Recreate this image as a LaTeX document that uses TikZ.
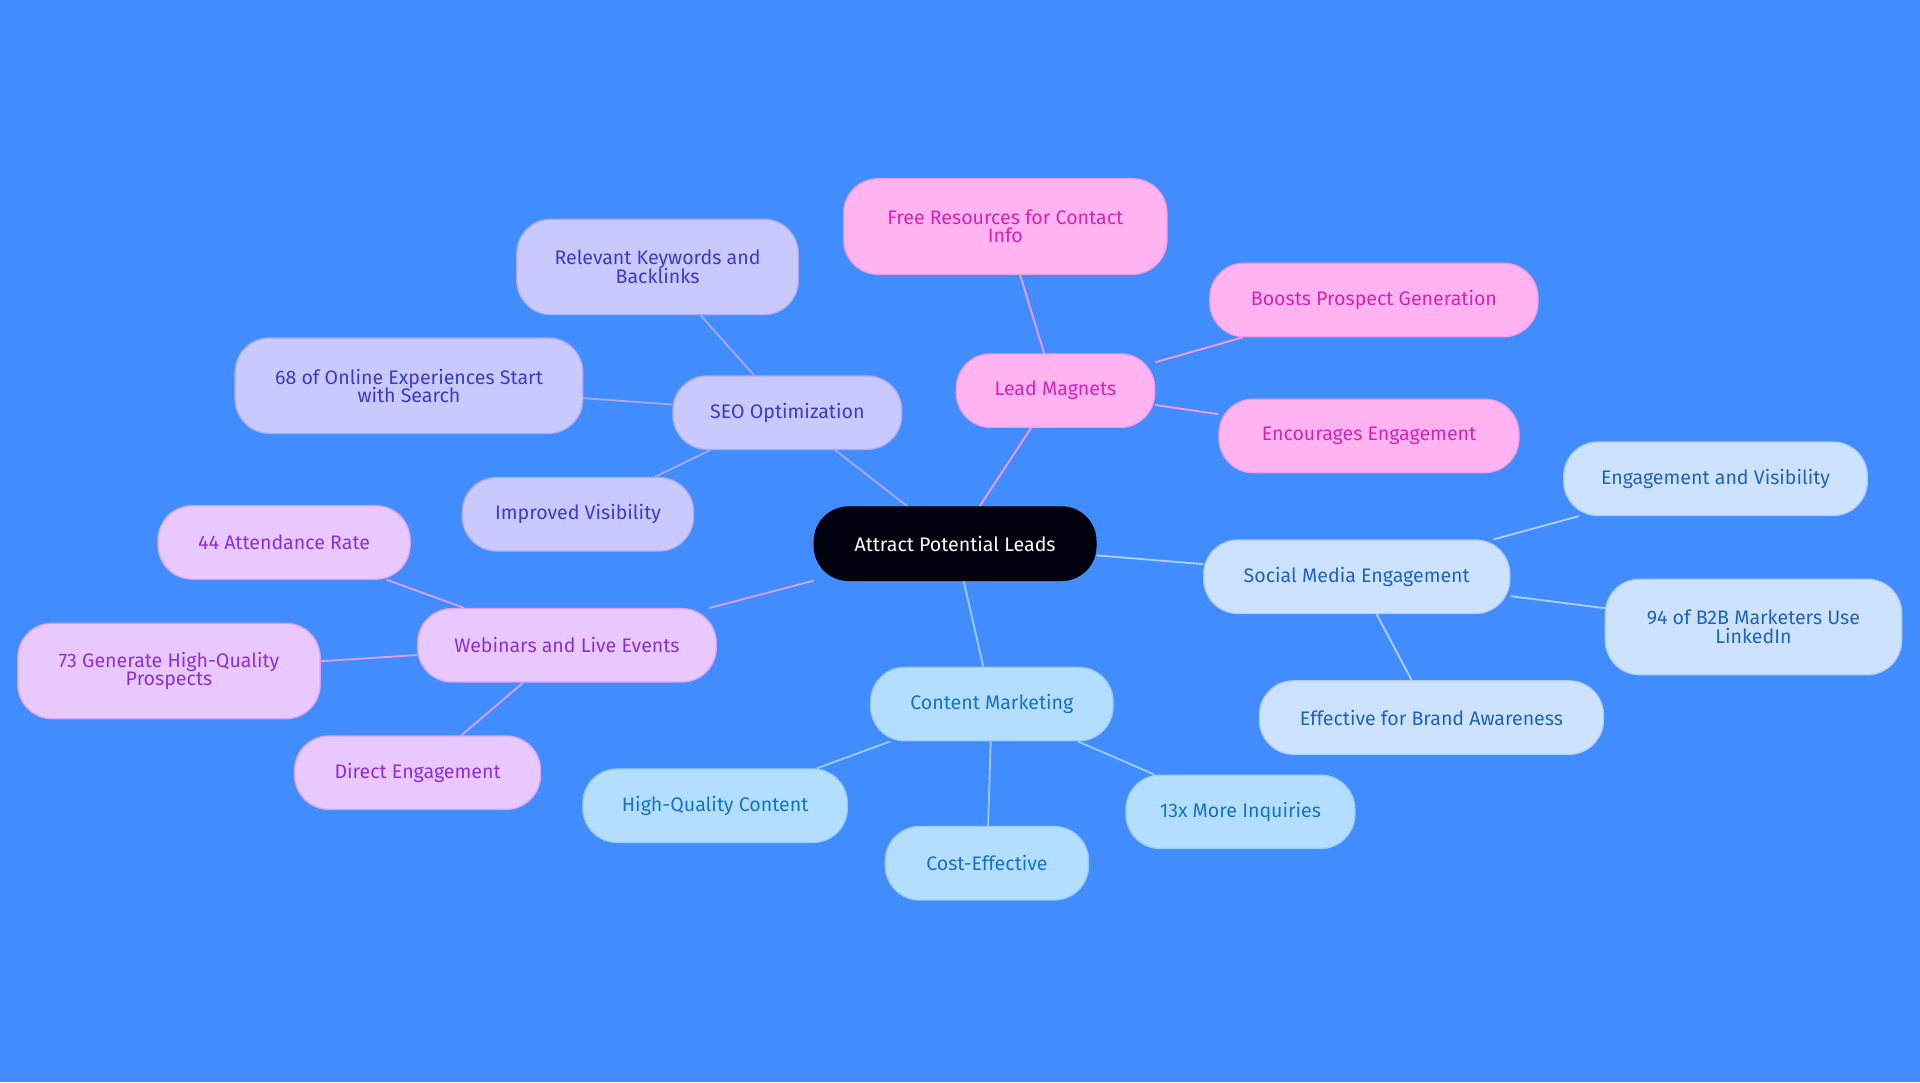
\documentclass[tikz,border=0pt]{standalone}
\usepackage{fontspec}
\setmainfont{Fira Sans}
\pgfdeclarelayer{bg}\pgfdeclarelayer{edges}
\pgfsetlayers{bg,edges,main}
\definecolor{bgc}{HTML}{418DFF}
\definecolor{pinkF}{HTML}{FFB3F0}\definecolor{pinkT}{HTML}{D424B5}\definecolor{pinkE}{HTML}{F49BE6}
\definecolor{lavF}{HTML}{C9C8FF}\definecolor{lavT}{HTML}{3B3BC4}\definecolor{lavE}{HTML}{A9A8F0}
\definecolor{vioF}{HTML}{E8C8FF}\definecolor{vioT}{HTML}{8E2FD6}\definecolor{vioE}{HTML}{D9A0F5}
\definecolor{cyF}{HTML}{B3DEFF}\definecolor{cyT}{HTML}{1573C4}\definecolor{cyE}{HTML}{9CCBF2}
\definecolor{soF}{HTML}{CCE2FF}\definecolor{soT}{HTML}{1F63B8}\definecolor{soE}{HTML}{B0CDF5}
\tikzset{
 n/.style={rounded corners=28pt,align=center,minimum height=60pt,inner sep=0pt,font=\fontsize{16}{18}\selectfont,line width=1pt},
 pk/.style={n,fill=pinkF,draw=pinkE,text=pinkT},
 lv/.style={n,fill=lavF,draw=lavE,text=lavT},
 vi/.style={n,fill=vioF,draw=vioE,text=vioT},
 cy/.style={n,fill=cyF,draw=cyE,text=cyT},
 so/.style={n,fill=soF,draw=soE,text=soT},
 e/.style={line width=1.5pt}
}
\begin{document}
\begin{tikzpicture}[x=1pt,y=-1pt]
\begin{pgfonlayer}{bg}\fill[bgc] (0,0) rectangle (1568,884);\end{pgfonlayer}
\useasboundingbox (0,0) rectangle (1568,884);
\node[n,fill=black!90!blue!60!black,draw=black,text=white,minimum width=230pt] (c) at (780,444) {Attract Potential Leads};
\node[pk,minimum width=162pt] (lm) at (862,319) {Lead Magnets};
\node[pk,minimum width=264pt,minimum height=78pt] (fr) at (821,185) {Free Resources for Contact\\[-3pt]Info};
\node[pk,minimum width=268pt] (bp) at (1122,245) {Boosts Prospect Generation};
\node[pk,minimum width=245pt] (ee) at (1118,356) {Encourages Engagement};
\node[lv,minimum width=187pt] (seo) at (643,337) {SEO Optimization};
\node[lv,minimum width=230pt,minimum height=78pt] (rk) at (537,218) {Relevant Keywords and\\[-3pt]Backlinks};
\node[lv,minimum width=284pt,minimum height=78pt] (oe) at (334,315) {68 of Online Experiences Start\\[-3pt]with Search};
\node[lv,minimum width=189pt] (iv) at (472,420) {Improved Visibility};
\node[vi,minimum width=244pt] (we) at (463,527) {Webinars and Live Events};
\node[vi,minimum width=206pt] (ar) at (232,443) {44 Attendance Rate};
\node[vi,minimum width=247pt,minimum height=78pt] (hq) at (138,548) {73 Generate High-Quality\\[-3pt]Prospects};
\node[vi,minimum width=201pt] (de) at (341,631) {Direct Engagement};
\node[cy,minimum width=198pt] (cm) at (810,575) {Content Marketing};
\node[cy,minimum width=216pt] (hc) at (584,658) {High-Quality Content};
\node[cy,minimum width=166pt] (ce) at (806,705) {Cost-Effective};
\node[cy,minimum width=187pt] (mi) at (1013,663) {13x More Inquiries};
\node[so,minimum width=250pt] (sm) at (1108,471) {Social Media Engagement};
\node[so,minimum width=248pt] (ev) at (1401,391) {Engagement and Visibility};
\node[so,minimum width=242pt,minimum height=78pt] (b2) at (1432,512) {94 of B2B Marketers Use\\[-3pt]LinkedIn};
\node[so,minimum width=281pt] (ba) at (1169,586) {Effective for Brand Awareness};
\begin{pgfonlayer}{edges}
\draw[e,pinkE] (c)--(lm) (lm)--(fr) (lm)--(bp) (lm)--(ee);
\draw[e,lavE] (c)--(seo) (seo)--(rk) (seo)--(oe) (seo)--(iv);
\draw[e,vioE] (c)--(we) (we)--(ar) (we)--(hq) (we)--(de);
\draw[e,cyE] (c)--(cm) (cm)--(hc) (cm)--(ce) (cm)--(mi);
\draw[e,soE] (c)--(sm) (sm)--(ev) (sm)--(b2) (sm)--(ba);
\end{pgfonlayer}
\end{tikzpicture}
\end{document}
